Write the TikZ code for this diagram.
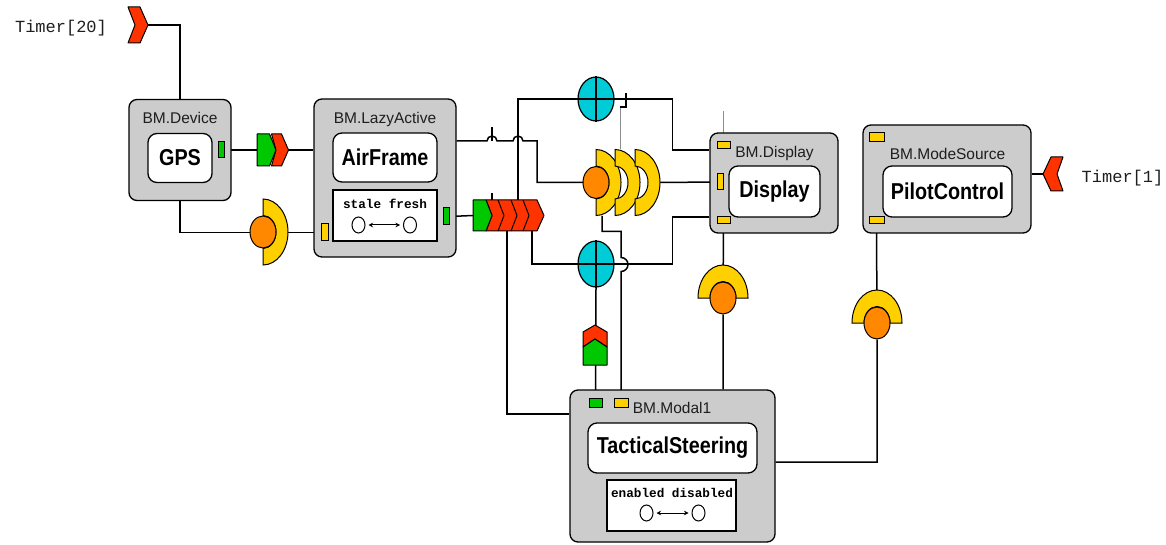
\documentclass[tikz,border=0pt]{standalone}
\usepackage{fontspec}
\setmainfont{Liberation Sans}
\newfontfamily\namefont{Liberation Sans}[FakeStretch=0.86]
\newfontfamily\codefont{Liberation Mono}
\usetikzlibrary{shapes.geometric,arrows.meta}
\definecolor{boxgray}{RGB}{204,204,204}
\definecolor{portyellow}{RGB}{255,208,0}
\definecolor{portgreen}{RGB}{0,200,0}
\definecolor{flagred}{RGB}{255,51,0}
\definecolor{orbcol}{RGB}{255,136,0}
\definecolor{plusblue}{RGB}{0,204,216}
\definecolor{ink}{RGB}{30,30,30}
\pgfdeclarelayer{wires}
\pgfsetlayers{wires,main}
\tikzset{
  block/.style={draw, fill=boxgray, rounded corners=8pt, line width=1.3pt, inner sep=0pt},
  namebox/.style={draw, fill=white, rounded corners=9pt, line width=1.3pt, inner sep=0pt,
    font=\namefont\bfseries\fontsize{23}{23}\selectfont},
  statebox/.style={draw, fill=white, line width=1.3pt, inner sep=0pt},
  blocklabel/.style={font=\fontsize{15.5}{16}\selectfont, text=ink, inner sep=0pt},
  statelabel/.style={font=\codefont\bfseries\fontsize{12.7}{13}\selectfont, inner sep=0pt},
  timerlabel/.style={font=\codefont\fontsize{17}{17}\selectfont, text=ink, inner sep=0pt},
  yport/.style={draw, fill=portyellow, line width=1pt, inner sep=0pt},
  gport/.style={draw, fill=portgreen, line width=1pt, inner sep=0pt},
  holder/.style={inner sep=0pt, outer sep=0pt},
  wire/.style={line width=1.5pt},
  ghost/.style={line width=0.6pt, black!45},
  flag/.style={fill=flagred, draw, line width=1pt, line join=round},
  goflag/.style={fill=portgreen, draw, line width=1pt, line join=round},
  orb/.style={ellipse, draw, fill=orbcol, line width=1pt, inner sep=0pt,
    minimum width=26pt, minimum height=32pt},
  stateorb/.style={ellipse, draw, fill=white, line width=1pt, inner sep=0pt,
    minimum width=13pt, minimum height=16pt},
  plusnode/.style={ellipse, draw, fill=plusblue, line width=1.2pt, inner sep=0pt,
    minimum width=36pt},
  statearrow/.style={line width=1pt, {Stealth[length=4.5pt,width=4.5pt]}-{Stealth[length=4.5pt,width=4.5pt]},
    shorten <=3pt, shorten >=3pt},
  moonright/.pic={
    \filldraw[fill=portyellow, line width=1pt]
      (0,-33) arc[start angle=-90, end angle=90, x radius=25, y radius=33]
      -- (0,16.5) arc[start angle=90, end angle=-90, x radius=13, y radius=16.5] -- cycle;
  },
  moonup/.pic={
    \filldraw[fill=portyellow, line width=1pt]
      (-25,0) arc[start angle=180, end angle=360, x radius=25, y radius=33]
      -- (13,0) arc[start angle=360, end angle=180, x radius=13, y radius=16.5] -- cycle;
  }
}
\begin{document}
\begin{tikzpicture}[x=1pt, y=-1pt]
\useasboundingbox (0,0) rectangle (1166,545);

% ---------- component blocks ----------
\node[block, minimum width=102pt, minimum height=101pt] (dev) at (180,150) {};
\node[blocklabel] (devlabel) at (180,118) {BM.Device};
\node[namebox, minimum width=64pt, minimum height=49pt] (gps) at (180,158) {GPS};
\node[gport, minimum width=6pt, minimum height=16pt] (gpsout) at (221.5,150) {};

\node[block, minimum width=142pt, minimum height=158pt] (lazy) at (385,178) {};
\node[blocklabel] (lazylabel) at (385,119) {BM.LazyActive};
\node[namebox, minimum width=104pt, minimum height=49pt] (air) at (385,157.5) {AirFrame};
\node[statebox, minimum width=104pt, minimum height=51pt] (airstate) at (385,215.5) {};
\node[statelabel] (airstatetext) at (385,204) {stale fresh};
\node[stateorb] (stale) at (358.5,225) {};
\node[stateorb] (fresh) at (410,225) {};
\draw[statearrow] (stale) -- (fresh);
\node[yport, minimum width=7pt, minimum height=17pt] (airin) at (324.5,232.5) {};
\node[gport, minimum width=6pt, minimum height=17pt] (airout) at (446,216.5) {};

\node[block, minimum width=128pt, minimum height=100pt] (disp) at (774,183) {};
\node[blocklabel] (displabel) at (774.5,153) {BM.Display};
\node[namebox, minimum width=91pt, minimum height=51pt] (display) at (774.5,191.5) {Display};
\node[yport, minimum width=13pt, minimum height=7pt] (dp1) at (723.5,145.5) {};
\node[yport, minimum width=6pt, minimum height=16pt] (dp2) at (720,182) {};
\node[yport, minimum width=13pt, minimum height=7pt] (dp3) at (723.5,220.5) {};

\node[block, minimum width=168pt, minimum height=108pt] (msrc) at (947,179) {};
\node[blocklabel] (msrclabel) at (947.5,154) {BM.ModeSource};
\node[namebox, minimum width=129pt, minimum height=51pt] (pilot) at (947.5,191.5) {PilotControl};
\node[yport, minimum width=15pt, minimum height=9pt] (pp1) at (876.5,137.5) {};
\node[yport, minimum width=15pt, minimum height=7pt] (pp2) at (876.5,220.5) {};

\node[block, minimum width=205pt, minimum height=152pt] (modal) at (672.5,466) {};
\node[blocklabel] (modallabel) at (672,408) {BM.Modal1};
\node[namebox, minimum width=169pt, minimum height=50pt] (steer) at (672.5,448) {TacticalSteering};
\node[statebox, minimum width=129pt, minimum height=51pt] (modalstate) at (671.5,505.5) {};
\node[statelabel] (modalstatetext) at (672,493) {enabled disabled};
\node[stateorb] (enabled) at (646.5,513) {};
\node[stateorb] (disabled) at (698.5,513) {};
\draw[statearrow] (enabled) -- (disabled);
\node[gport, minimum width=13pt, minimum height=9pt] (mg) at (595.5,402.5) {};
\node[yport, minimum width=14pt, minimum height=9pt] (my) at (621,402.5) {};

% ---------- timers ----------
\node[timerlabel] (t20label) at (61,28) {Timer[20]};
\node[timerlabel] (t1label) at (1122.5,178) {Timer[1]};
\node[holder, minimum width=20pt, minimum height=36pt] (t20) at (138,25) {};
\node[holder, minimum width=20pt, minimum height=34pt] (t1) at (1053,174) {};
\begin{scope}[shift={(t20.center)}]
  \filldraw[flag] (-10,-18) -- (2,-18) -- (10,0) -- (2,18) -- (-10,18) -- (-3,0) -- cycle;
\end{scope}
\begin{scope}[shift={(t1.center)}]
  \filldraw[flag] (10,-17) -- (-2,-17) -- (-10,0) -- (-2,17) -- (10,17) -- (4,0) -- cycle;
\end{scope}

% ---------- event flags and queue ----------
\node[holder, minimum width=31pt, minimum height=32pt] (fwd) at (272.5,150) {};
\begin{scope}[shift={(fwd.center)}]
  \filldraw[goflag] (-15.5,-16) -- (-3,-16) -- (3.5,0) -- (-3,16) -- (-15.5,16) -- cycle;
  \filldraw[flag] (-1,-16) -- (9,-16) -- (16,0) -- (9,16) -- (-1,16) -- (3.5,0) -- cycle;
\end{scope}

\node[holder, minimum width=72pt, minimum height=31pt] (q) at (509,215.5) {};
\begin{scope}[shift={(q.center)}]
  \filldraw[flag] (-23,-15.5) -- (28,-15.5) -- (35,0) -- (28,15.5) -- (-23,15.5) -- (-17,0) -- cycle;
  \filldraw[goflag] (-36,-15.5) -- (-23,-15.5) -- (-17,0) -- (-23,15.5) -- (-36,15.5) -- cycle;
  \draw[line width=1pt, line join=round]
    (-11,-15.5) -- (-5,0) -- (-11,15.5)
    (2,-15.5) -- (8,0) -- (2,15.5)
    (14,-15.5) -- (20,0) -- (14,15.5);
\end{scope}

\node[holder, minimum width=24pt, minimum height=40pt] (upflag) at (595,345) {};
\begin{scope}[shift={(upflag.center)}]
  \filldraw[flag] (-12,-13) -- (0,-20) -- (12,-13) -- (12,2) -- (0,-6) -- (-12,2) -- cycle;
  \filldraw[goflag] (-12,2) -- (0,-6) -- (12,2) -- (12,20) -- (-12,20) -- cycle;
\end{scope}

% ---------- merge points ----------
\node[plusnode, minimum height=44pt] (plusT) at (596,99) {};
\draw[line width=1.3pt] (plusT.north) -- (plusT.south) (plusT.west) -- (plusT.east);
\node[plusnode, minimum height=46pt] (plusB) at (596,264) {};
\draw[line width=1.3pt] (plusB.north) -- (plusB.south) (plusB.west) -- (plusB.east);

% ---------- receivers ----------
\coordinate (gpsc) at (263,232);
\pic at (gpsc) {moonright};
\node[orb] (gpsorb) at (gpsc) {};

\node[holder, minimum width=76pt, minimum height=67pt] (rcv) at (621,182.5) {};
\pic at ([xshift=-25pt]rcv.center) {moonright};
\pic at ([xshift=-6pt]rcv.center) {moonright};
\pic at ([xshift=14pt]rcv.center) {moonright};
\node[orb] (rcvorb) at ([xshift=-25pt]rcv.center) {};

\coordinate (dmc) at (723,298);
\pic at (dmc) {moonup};
\node[orb] (dmoon) at (dmc) {};

\coordinate (pmc) at (877,323);
\pic at (pmc) {moonup};
\node[orb] (pmoon) at (pmc) {};

% ---------- connectors ----------
\begin{pgfonlayer}{wires}
  \draw[wire] (t20.east) -| (dev.north);
  \draw[wire] (gpsout.east) -- (fwd.west);
  \draw[wire] (fwd.east) -- (fwd.east -| lazy.west);
  \draw[wire] (dev.south) |- (airin.west);
  \draw[wire] (airout.east) -- (q.west);
  % AirFrame output, hopping over two crossings
  \coordinate (hopA) at (492,141);
  \draw[wire] ([yshift=37pt]lazy.east) -- ([xshift=-5pt]hopA)
    arc[start angle=180, end angle=360, radius=5]
    -- ++(16,0) arc[start angle=180, end angle=360, radius=5]
    -- ++(14,0) |- (rcv.west);
  \draw[wire] (hopA) -- ++(0,-14);
  \draw[wire] ([xshift=-17pt]q.north) -- ++(0,-7);
  % upper merge
  \draw[wire] ([xshift=9pt]q.north) |- (plusT.west);
  \draw[wire] (plusT.east) -- ++(58,0) |- ([yshift=33pt]disp.west);
  \draw[ghost] ([xshift=-1pt]rcv.north) -- ++(0,-42);
  \draw[wire] ([xshift=-1pt,yshift=42pt]rcv.north) -- ++(6,0) -- ++(0,-14);
  \draw[wire] (rcv.east) -- (dp2.west);
  % lower merge
  \draw[wire] ([xshift=-2pt]q.south) |- ([yshift=52pt]modal.west);
  \draw[wire] ([xshift=23pt]q.south) |- (plusB.west);
  \draw[wire] (plusB.east) -- ++(58,0) |- ([yshift=-34pt]disp.west);
  \draw[wire] (plusB.south) -- (mg.north);
  \draw[wire] (my.north) -- ++(0,-126)
    arc[start angle=90, end angle=-90, radius=7]
    -- ++(0,-26) -| ([xshift=-19pt]rcv.south);
  % display and mode source
  \draw[wire] (dp3.south) -- (dmoon) -- (dmoon |- modal.north);
  \draw[ghost] (dp1.north) -- ++(0,-30);
  \draw[wire] (pp1.north) -- ++(0,-6);
  \draw[wire] (pp2.south) -- (pmoon) |- ([yshift=4pt]modal.east);
  \draw[wire] (t1.west) -- (t1.west -| msrc.east);
\end{pgfonlayer}
\end{tikzpicture}
\end{document}
